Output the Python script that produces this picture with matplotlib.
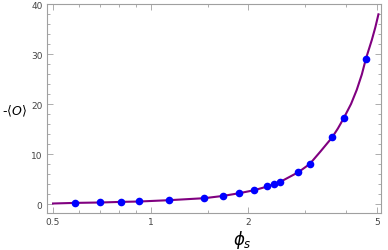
import numpy as np
import matplotlib
matplotlib.use("Agg")
import matplotlib.pyplot as plt
from matplotlib.ticker import FixedLocator, NullFormatter

# curve values
curve_phi = [0.5, 0.585, 0.699, 0.811, 0.924, 1.14, 1.464, 1.675, 1.877, 2.088,
             2.29, 2.403, 2.51, 2.855, 3.095, 3.34, 3.627, 3.78, 3.94, 4.15,
             4.32, 4.48, 4.61, 4.81, 4.93, 5.04]
curve_O = [0.2, 0.32, 0.4, 0.52, 0.6, 0.86, 1.26, 1.72, 2.26, 2.86,
           3.6, 4.06, 4.52, 6.46, 8.1, 10.6, 13.4, 15.2, 17.26, 20.1,
           22.9, 26.0, 29.1, 32.9, 35.4, 38.0]

# data points (blue dots)
pts_phi = [0.585, 0.699, 0.811, 0.922, 1.14, 1.464, 1.675, 1.877, 2.088, 2.29,
           2.403, 2.51, 2.855, 3.095, 3.627, 3.94, 4.61]
pts_O = [0.32, 0.4, 0.52, 0.6, 0.86, 1.26, 1.72, 2.26, 2.86, 3.6,
         4.06, 4.52, 6.46, 8.1, 13.4, 17.26, 29.1]

x_major = [0.5, 1, 2, 5]
x_labels = ["0.5", "1", "2", "5"]
x_minor = [0.6, 0.7, 0.8, 0.9, 1.5, 3, 4]

fig = plt.figure(figsize=(3.88, 2.51), dpi=100)
ax = fig.add_axes([0.1204, 0.1474, 0.8628, 0.8315])

ax.plot(curve_phi, curve_O, color="#800080", lw=1.5, zorder=2)
ax.plot(pts_phi, pts_O, "o", color="#0000ff", ms=5.5, mec="none", zorder=3)

ax.set_xscale("log")
ax.set_xlim(0.478, 5.15)
ax.set_ylim(-1.7, 40)

ax.xaxis.set_major_locator(FixedLocator(x_major))
ax.set_xticklabels(x_labels)
ax.xaxis.set_minor_locator(FixedLocator(x_minor))
ax.xaxis.set_minor_formatter(NullFormatter())
ax.set_yticks([0, 10, 20, 30, 40])
ax.yaxis.set_minor_locator(FixedLocator(np.arange(0, 41, 2)))

for s in ax.spines.values():
    s.set_color("#a0a0a0")
    s.set_linewidth(0.8)
ax.tick_params(which="both", direction="in", top=True, right=True,
               color="#a0a0a0", width=0.6, labelsize=6.5, labelcolor="#444444")
ax.tick_params(which="major", length=4, pad=3)
ax.tick_params(which="minor", length=2)

fig.text(0.005, 0.555, r"-$\langle O\rangle$", fontsize=9, ha="left", va="center")
fig.text(0.625, 0.045, r"$\phi_s$", fontsize=12, ha="center", va="center")

fig.savefig("out.png", dpi=100)
